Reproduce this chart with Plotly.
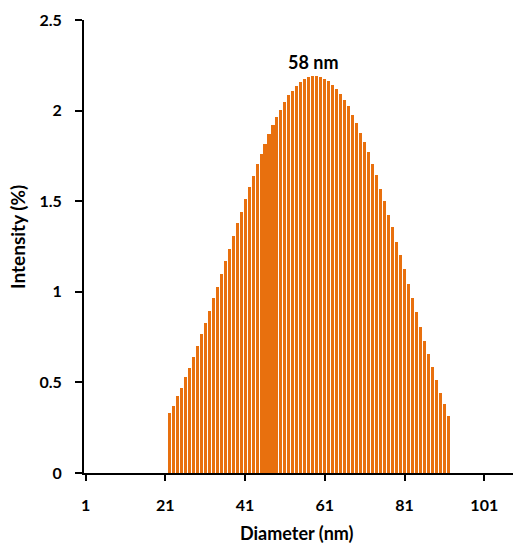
import plotly.graph_objects as go

diameters = list(range(22, 93))
intensity = [
    0.33, 0.37, 0.425, 0.47, 0.53, 0.58, 0.64, 0.70, 0.765, 0.83,
    0.894, 0.964, 1.028, 1.10, 1.17, 1.235, 1.308, 1.378,
    1.442, 1.512, 1.577, 1.639, 1.704, 1.760, 1.816, 1.871, 1.919, 1.966,
    2.005, 2.045, 2.084, 2.110, 2.136, 2.157, 2.172, 2.183, 2.189, 2.189,
    2.187, 2.174, 2.163, 2.141, 2.118, 2.09, 2.057, 2.024, 1.976, 1.930,
    1.878, 1.825, 1.770, 1.706, 1.642, 1.569, 1.499, 1.425, 1.356, 1.275,
    1.205, 1.124, 1.045, 0.964, 0.887, 0.807, 0.728, 0.655, 0.583, 0.513,
    0.44, 0.379, 0.315,
]
x_ticks = [1, 21, 41, 61, 81, 101]
y_ticks = [0, 0.5, 1, 1.5, 2, 2.5]
y_tick_labels = ["0", "0.5", "1", "1.5", "2", "2.5"]
peak_label = "58 nm"
peak_x = 58
peak_y = 2.27

FONT = "Lato"
bar_color = "#E8700E"

fig = go.Figure()
fig.add_trace(go.Bar(
    x=diameters, y=intensity, width=0.76,
    marker=dict(color=bar_color, line=dict(width=0)),
    showlegend=False,
))

fig.update_layout(
    width=513, height=546,
    margin=dict(l=84, r=0, t=20, b=73),
    paper_bgcolor="white", plot_bgcolor="white",
    font=dict(family=FONT, color="black"),
    bargap=0,
)
fig.update_xaxes(
    range=[0.6, 108.2], tickvals=x_ticks, ticktext=[str(v) for v in x_ticks],
    showgrid=False, zeroline=False,
    showline=True, linecolor="black", linewidth=2,
    ticks="outside", ticklen=6, tickwidth=2, tickcolor="black",
    tickfont=dict(family=FONT, size=16, color="black", weight="bold"),
    ticklabelstandoff=11,
)
fig.update_yaxes(
    range=[0, 2.5], tickvals=y_ticks, ticktext=y_tick_labels,
    showgrid=False, zeroline=False,
    showline=True, linecolor="black", linewidth=2,
    ticks="outside", ticklen=7, tickwidth=2, tickcolor="black",
    tickfont=dict(family=FONT, size=16, color="black", weight="bold"),
    ticklabelstandoff=10,
)
fig.add_annotation(
    x=peak_x, y=peak_y, xref="x", yref="y", text="<b>" + peak_label + "</b>",
    showarrow=False, font=dict(family=FONT, size=18, color="black"),
    xanchor="center", yanchor="middle",
)
# axis titles placed at pixel positions converted to paper coordinates
fig.add_annotation(
    x=(17 - 84) / 429, y=(473 - 237) / 453, xref="paper", yref="paper",
    text="<b>Intensity (%)</b>",
    showarrow=False, textangle=-90, font=dict(family=FONT, size=19, color="black"),
    xanchor="center", yanchor="middle",
)
fig.add_annotation(
    x=(297 - 84) / 429, y=(473 - 533) / 453, xref="paper", yref="paper",
    text="<b>Diameter (nm)</b>",
    showarrow=False, font=dict(family=FONT, size=18, color="black"),
    xanchor="center", yanchor="middle",
)

fig.write_html("out.html")
